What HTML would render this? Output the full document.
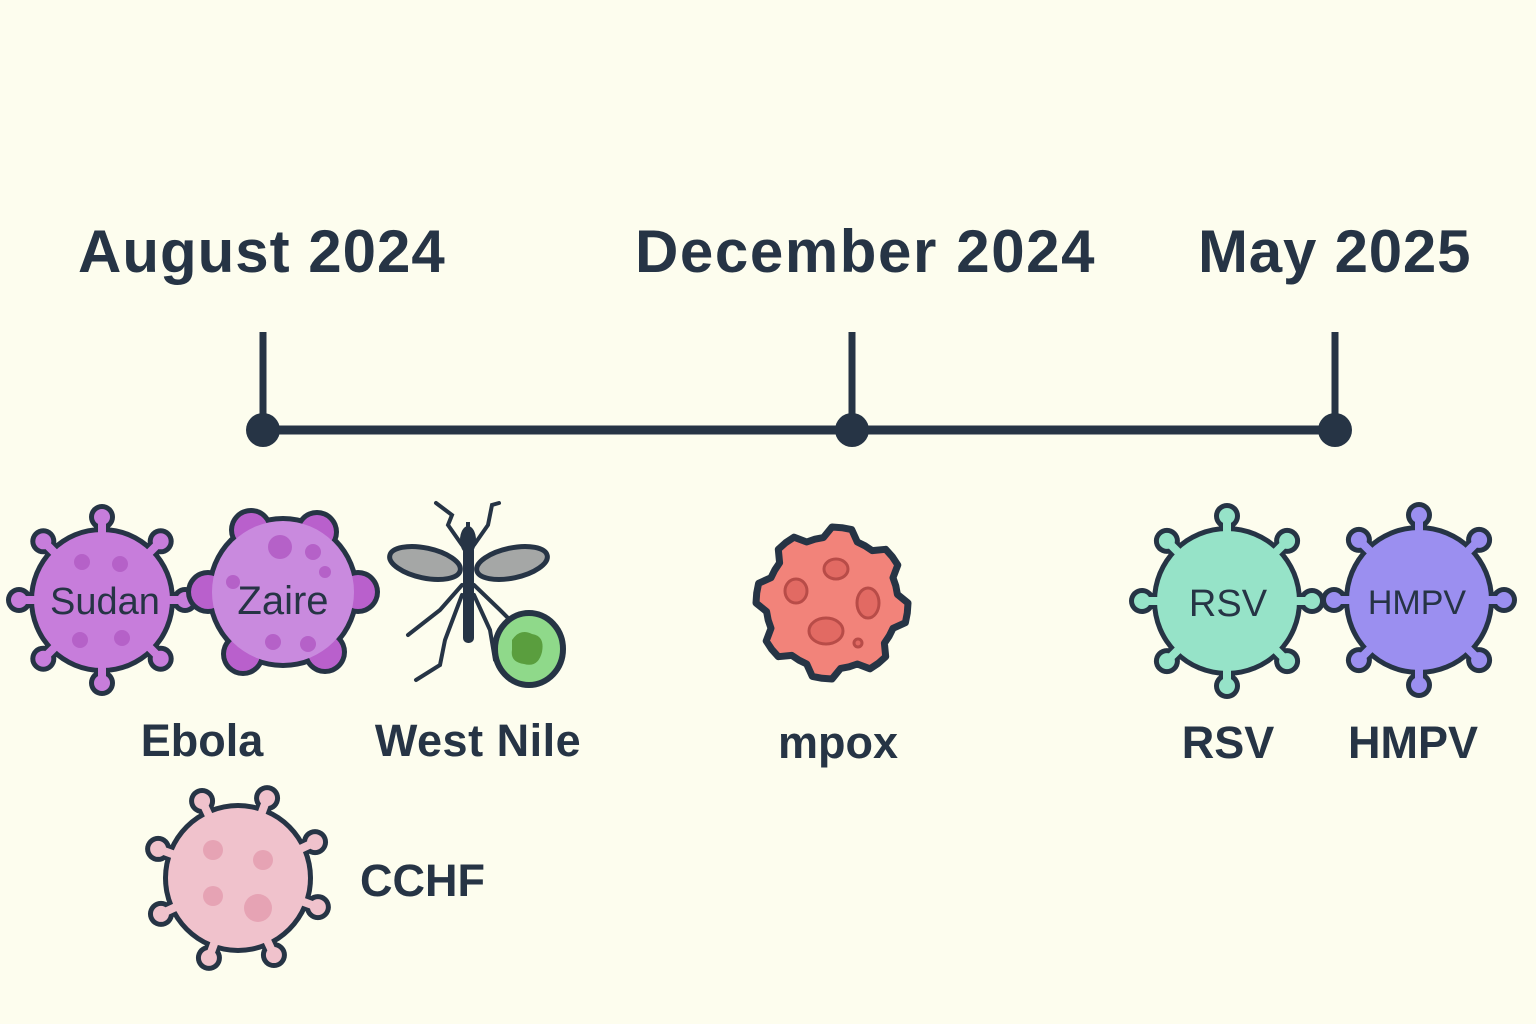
<!DOCTYPE html>
<html><head><meta charset="utf-8"><style>
html,body{margin:0;padding:0;background:#fdfdee;}
svg{display:block}
text{font-family:"Liberation Sans","DejaVu Sans",sans-serif;font-weight:bold;fill:#263445}
</style></head><body>
<svg id="s" width="1536" height="1024" viewBox="0 0 1536 1024" xmlns="http://www.w3.org/2000/svg">
<rect width="1536" height="1024" fill="#fdfdee"/>
<g id="shapes"></g>
<text x="78" y="272" font-size="60" letter-spacing="1">August 2024</text>
<text x="635" y="272" font-size="60" letter-spacing="1.6">December 2024</text>
<text x="1198" y="272" font-size="60" letter-spacing="0.8">May 2025</text>
<line x1="263" y1="430" x2="1335" y2="430" stroke="#263445" stroke-width="9"/>
<line x1="263" y1="332" x2="263" y2="430" stroke="#263445" stroke-width="7"/>
<line x1="852" y1="332" x2="852" y2="430" stroke="#263445" stroke-width="7"/>
<line x1="1335" y1="332" x2="1335" y2="430" stroke="#263445" stroke-width="7"/>
<circle cx="263" cy="430" r="17" fill="#263445"/>
<circle cx="852" cy="430" r="17" fill="#263445"/>
<circle cx="1335" cy="430" r="17" fill="#263445"/>
<!-- mosquito -->
<g stroke="#263445" stroke-linecap="round" fill="none" stroke-width="4">
<path d="M462 545 L448 525 L452 515 L436 503"/>
<path d="M474 545 L488 525 L492 505 L499 503"/>
<path d="M462 585 L440 610 L408 635"/>
<path d="M462 595 L445 640 L440 665 L416 680"/>
<path d="M474 595 L490 630 L495 660 L510 680"/>
<path d="M474 585 L500 610 L510 620"/>
</g>
<ellipse cx="425" cy="563" rx="36" ry="15" fill="#a5a7a6" stroke="#263445" stroke-width="5" transform="rotate(12 425 563)"/>
<ellipse cx="512" cy="563" rx="36" ry="15" fill="#a5a7a6" stroke="#263445" stroke-width="5" transform="rotate(-12 512 563)"/>
<ellipse cx="468" cy="540" rx="8" ry="14" fill="#263445"/>
<rect x="463" y="545" width="11" height="98" rx="5" fill="#263445"/>
<line x1="468" y1="530" x2="468" y2="522" stroke="#263445" stroke-width="4"/>
<ellipse cx="529" cy="649" rx="34" ry="36" fill="#8fd98a" stroke="#263445" stroke-width="6"/>
<path d="M512 640 Q520 628 532 634 Q545 636 542 652 Q538 668 524 664 Q510 662 512 650Z" fill="#5a9e3e"/>
<text x="202" y="756" font-size="45" text-anchor="middle">Ebola</text>
<text x="478" y="756" font-size="45" text-anchor="middle" letter-spacing="0.5">West Nile</text>
<text x="838" y="758" font-size="45" text-anchor="middle">mpox</text>
<text x="1228" y="758" font-size="45" text-anchor="middle">RSV</text>
<text x="1413" y="758" font-size="45" text-anchor="middle">HMPV</text>
<text x="360" y="896" font-size="45">CCHF</text>
<g>
<text x="105" y="614" font-size="38" text-anchor="middle" style="font-weight:normal">Sudan</text>
<text x="283" y="614" font-size="40" text-anchor="middle" style="font-weight:normal">Zaire</text>
<text x="1228" y="616" font-size="38" text-anchor="middle" style="font-weight:normal">RSV</text>
<text x="1417" y="614" font-size="34" text-anchor="middle" style="font-weight:normal">HMPV</text>
</g>
</svg>
<script>
(function(){
var NS="http://www.w3.org/2000/svg",g=document.getElementById("shapes"),D="#263445";
function el(n,a){var e=document.createElementNS(NS,n);for(var k in a)e.setAttribute(k,a[k]);g.appendChild(e);return e;}
function virus(cx,cy,r,n,fill,spot,off,spots){
 var L=r+15;
 [[D,16,13,r+5],[fill,8,8,r]].forEach(function(p){
  for(var i=0;i<n;i++){var a=(off+i*360/n)*Math.PI/180,x=cx+L*Math.cos(a),y=cy+L*Math.sin(a);
   el("line",{x1:cx,y1:cy,x2:x,y2:y,stroke:p[0],"stroke-width":p[1]});
   el("circle",{cx:x,cy:y,r:p[2],fill:p[0]});}
  el("circle",{cx:cx,cy:cy,r:p[3],fill:p[0]});
 });
 (spots||[]).forEach(function(s){el("circle",{cx:cx+s[0],cy:cy+s[1],r:s[2],fill:spot});});
}
virus(102,600,68,8,"#c77ddb","#b561c8",-90,[[-20,-38,8],[18,-36,8],[-22,40,8],[20,38,8]]);
virus(238,878,70,8,"#f0c2cc","#e6a3b4",-70,[[-25,-28,10],[25,-18,10],[-25,18,10],[20,30,14]]);
virus(1227,601,70,8,"#96e3c8","#7fd3b6",-90,[]);
virus(1419,600,70,8,"#9b8ff0","#8577e0",-90,[]);
[[D,9],["#c77ddb",0]].forEach(function(p,idx){
 [[-32,-62],[34,-60],[-75,0],[75,0],[-40,62],[42,60]].forEach(function(b){
  el("circle",{cx:283+b[0],cy:592+b[1],r:idx?17:22,fill:idx?"#b960cc":D});});
 el("circle",{cx:283,cy:592,r:idx?71:76,fill:idx?"#c98ade":D});
});
[[-3,-45,12],[30,-40,8],[-50,-10,7],[42,-20,6],[-10,50,8],[25,52,8]].forEach(function(s){el("circle",{cx:283+s[0],cy:592+s[1],r:s[2],fill:"#b561c8"});});
var pts=[];for(var i=0;i<48;i++){var a=i*2*Math.PI/48,rr=(Math.floor(i/3)%2)?66:76;pts.push((832+rr*Math.cos(a)).toFixed(1)+","+(603+rr*Math.sin(a)).toFixed(1));}
el("polygon",{points:pts.join(" "),fill:"#f2837a",stroke:D,"stroke-width":7,"stroke-linejoin":"round"});
[[4,-34,12,10],[-36,-12,11,12],[36,0,11,15],[-6,28,17,13],[26,40,4,4]].forEach(function(s){el("ellipse",{cx:832+s[0],cy:603+s[1],rx:s[2],ry:s[3],fill:"#e26a63",stroke:"#b84c48","stroke-width":3});});
})();
</script>
</body></html>
